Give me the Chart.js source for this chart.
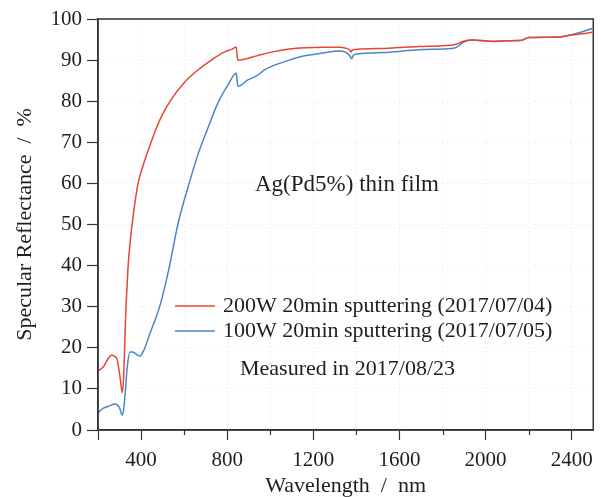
<!DOCTYPE html>
<html>
<head>
<meta charset="utf-8">
<script src="https://cdn.jsdelivr.net/npm/chart.js@4.4.1/dist/chart.umd.min.js"></script>
<style>
  html, body { margin: 0; padding: 0; background: #fff; }
</style>
</head>
<body>
<canvas id="chart" width="601" height="497"></canvas>
<script>
// Wavelength (nm) and specular reflectance (%)
const wl200W = [200, 225, 245, 263, 287, 302, 313, 318, 322, 326, 330, 335, 340, 350, 363, 386, 410, 433, 464, 495,
  541, 603, 664, 726, 788, 820, 842, 846, 850, 896, 920, 942, 1011, 1088, 1166, 1243, 1320, 1351, 1368, 1374,
  1380, 1397, 1551, 1690, 1798, 1860, 1898, 1937, 2029, 2100, 2168, 2199, 2338, 2400, 2450, 2495];
const refl200W = [14.4, 15.4, 17.2, 18.2, 17.4, 13.0, 9.1, 12.0, 17.0, 24.0, 30.0, 35.0, 40.0, 46.0, 52.0, 60.0, 64.5, 68.0, 72.5, 76.3,
  80.5, 84.7, 87.6, 90.0, 92.0, 92.6, 93.2, 91.0, 90.0, 90.4, 90.8, 91.1, 92.0, 92.7, 93.0, 93.1, 93.1, 92.9, 92.5, 92.0,
  92.4, 92.6, 92.9, 93.3, 93.5, 93.8, 94.6, 94.9, 94.6, 94.7, 94.8, 95.5, 95.6, 96.1, 96.4, 96.8];

const wl100W = [200, 225, 250, 279, 299, 313, 319, 325, 336, 348, 360, 371, 394, 417, 441, 471, 495, 533, 572, 626,
  664, 710, 757, 803, 842, 846, 850, 896, 934, 973, 1011, 1088, 1166, 1243, 1320, 1351, 1370, 1378, 1386, 1404,
  1551, 1690, 1798, 1860, 1898, 1937, 2029, 2100, 2168, 2199, 2338, 2400, 2450, 2495];
const refl100W = [4.2, 5.3, 5.8, 6.3, 5.5, 3.6, 5.0, 8.1, 15.4, 19.0, 19.0, 18.7, 18.0, 19.9, 23.5, 27.6, 31.6, 40.1, 50.3, 60.5,
  67.0, 73.4, 79.6, 83.9, 86.8, 85.0, 83.6, 85.2, 86.1, 87.6, 88.6, 90.0, 91.1, 91.7, 92.2, 91.9, 91.0, 90.3, 91.2, 91.5,
  91.9, 92.5, 92.7, 93.0, 94.4, 94.9, 94.5, 94.7, 94.8, 95.5, 95.6, 96.2, 96.9, 97.7];

const seriesLabels = ['200W 20min sputtering (2017/07/04)', '100W 20min sputtering (2017/07/05)'];
const seriesColors = ['#e8462f', '#4a86c6'];
const sampleName = 'Ag(Pd5%) thin film';
const measuredNote = 'Measured in 2017/08/23';

const FONT = '"Liberation Serif", "Times New Roman", serif';
const INK = '#1e1e1e';
const AXIS = '#333';

function toPoints(xs, ys) {
  return xs.map((x, i) => ({ x: x, y: ys[i] }));
}

// box round the plot, minor x ticks, in-plot legend and notes
const decorPlugin = {
  id: 'decor',
  afterDraw(chart) {
    const { ctx, chartArea: a, scales } = chart;
    ctx.save();
    ctx.strokeStyle = AXIS;
    ctx.lineWidth = 1.5;
    ctx.strokeRect(a.left, a.top, a.right - a.left, a.bottom - a.top);

    // minor ticks on x
    ctx.lineWidth = 1.2;
    scales.x.ticks.forEach(t => {
      if (t.value % 400 !== 0 && t.value !== 200) {
        const px = Math.round(scales.x.getPixelForValue(t.value)) + 0.5;
        ctx.beginPath();
        ctx.moveTo(px, a.bottom);
        ctx.lineTo(px, a.bottom + 5);
        ctx.stroke();
      }
    });

    ctx.fillStyle = INK;
    ctx.textBaseline = 'middle';
    ctx.textAlign = 'left';
    ctx.font = '23px ' + FONT;
    ctx.fillText(sampleName, 255, 185);

    ctx.font = '22px ' + FONT;
    const rows = [306, 331];
    seriesLabels.forEach((lbl, i) => {
      ctx.strokeStyle = seriesColors[i];
      ctx.lineWidth = 1.3;
      ctx.beginPath();
      ctx.moveTo(175, rows[i]);
      ctx.lineTo(215, rows[i]);
      ctx.stroke();
      ctx.fillText(lbl, 223, rows[i]);
    });
    ctx.fillText(measuredNote, 240, 369);
    ctx.restore();
  }
};

new Chart(document.getElementById('chart'), {
  type: 'line',
  data: {
    datasets: [
      { label: seriesLabels[0], data: toPoints(wl200W, refl200W), borderColor: seriesColors[0], borderWidth: 1.5,
        pointRadius: 0, cubicInterpolationMode: 'monotone', fill: false },
      { label: seriesLabels[1], data: toPoints(wl100W, refl100W), borderColor: seriesColors[1], borderWidth: 1.5,
        pointRadius: 0, cubicInterpolationMode: 'monotone', fill: false }
    ]
  },
  options: {
    responsive: false,
    devicePixelRatio: 1,
    animation: false,
    layout: { padding: { top: 19, right: 6, left: 0, bottom: 0 } },
    plugins: { legend: { display: false }, tooltip: { enabled: false } },
    scales: {
      x: {
        type: 'linear',
        min: 200,
        max: 2500,
        ticks: {
          stepSize: 200,
          includeBounds: false,
          autoSkip: false,
          maxRotation: 0,
          padding: 8,
          color: INK,
          font: { family: FONT, size: 21 },
          callback: v => (v % 400 === 0 ? String(v) : '')
        },
        grid: {
          color: '#e6e6e6',
          lineWidth: 1,
          tickLength: 10,
          tickWidth: 1.2,
          tickColor: c => (c.tick && (c.tick.value % 400 === 0 || c.tick.value === 200)) ? AXIS : 'rgba(0,0,0,0)'
        },
        border: { color: AXIS, width: 1.5, dash: [1, 3] },
        title: {
          display: true,
          text: 'Wavelength  /  nm',
          color: INK,
          font: { family: FONT, size: 22, lineHeight: 1 },
          padding: { top: 0, bottom: 0 }
        },
        afterFit: s => { s.height = 67; }
      },
      y: {
        min: 0,
        max: 100,
        ticks: {
          stepSize: 10,
          padding: 5,
          color: INK,
          font: { family: FONT, size: 21 }
        },
        grid: { color: '#e6e6e6', lineWidth: 1, tickLength: 11, tickWidth: 1.2, tickColor: AXIS },
        border: { color: AXIS, width: 1.5, dash: [1, 3] },
        title: {
          display: true,
          text: 'Specular Reflectance  /  %',
          color: INK,
          font: { family: FONT, size: 22 },
          padding: { top: 12, bottom: 0 }
        },
        afterFit: s => { s.width = 98; }
      }
    }
  },
  plugins: [decorPlugin]
});
</script>
</body>
</html>
